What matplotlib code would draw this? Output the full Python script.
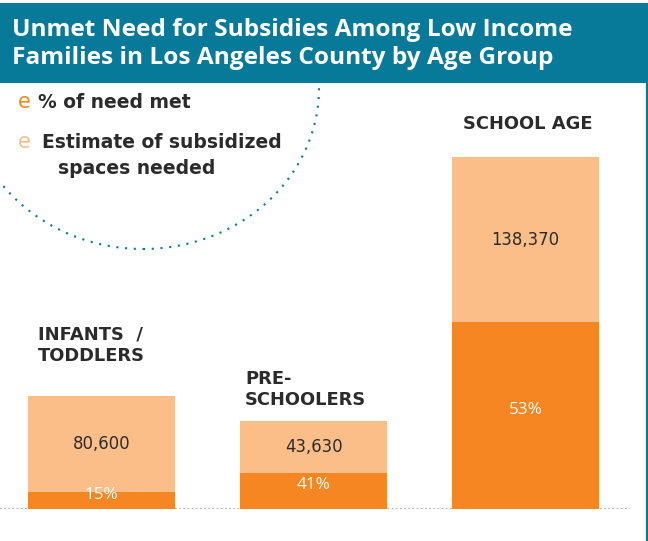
import matplotlib.pyplot as plt
from matplotlib.patches import Rectangle, Ellipse
from matplotlib.lines import Line2D

# chart data
groups = ["INFANTS  /\nTODDLERS", "PRE-\nSCHOOLERS", "SCHOOL AGE"]
spaces_needed = [80600, 43630, 138370]   # unmet, light part
pct_met = [15, 41, 53]                    # % of need met, dark part
title = "Unmet Need for Subsidies Among Low Income\nFamilies in Los Angeles County by Age Group"
legend_labels = ["% of need met", "Estimate of subsidized", "spaces needed"]

# colours
TEAL = "#077a99"
DARK_ORANGE = "#f58621"
LIGHT_ORANGE = "#fbbe89"
TEXT = "#2b2b2b"
TITLE_FONT = "Open Sans"
FONT = "DejaVu Sans"

W, H = 648, 541
fig = plt.figure(figsize=(W / 100, H / 100), dpi=100)
fig.patch.set_facecolor("white")


def fx(px):
    return px / W


def fy(py):
    # pixel from top -> figure fraction
    return 1 - py / H


# dotted circle behind everything
circle = Ellipse((fx(143), fy(88)), 352 / W, 322 / H, transform=fig.transFigure,
                 fill=False, edgecolor=TEAL, linewidth=1.5,
                 linestyle=(0, (1, 3.2)), zorder=0)
fig.patches.append(circle)

# title banner (white strip on top hides the rest of the circle)
fig.patches.append(Rectangle((0, fy(3)), 1, 3 / H, transform=fig.transFigure,
                             facecolor="white", edgecolor="none", zorder=5))
fig.patches.append(Rectangle((0, fy(83)), 1, 80 / H, transform=fig.transFigure,
                             facecolor=TEAL, edgecolor="none", zorder=5))
fig.lines.append(Line2D([fx(646.5), fx(646.5)], [fy(83), 0], transform=fig.transFigure,
                        color=TEAL, linewidth=1.6, zorder=5))
fig.text(fx(12), fy(44), title, color="white", fontsize=17.6, fontfamily=TITLE_FONT,
         fontweight="bold", va="center", ha="left", linespacing=1.22, zorder=6)

# legend
fig.text(fx(18), fy(108), "e", color=DARK_ORANGE, fontsize=15, fontfamily=FONT, va="baseline")
fig.text(fx(38), fy(108), legend_labels[0], color=TEXT, fontsize=13.5, fontfamily=FONT,
         fontweight="bold", va="baseline")
fig.text(fx(18), fy(148), "e", color=LIGHT_ORANGE, fontsize=15, fontfamily=FONT, va="baseline")
fig.text(fx(42), fy(148), legend_labels[1], color=TEXT, fontsize=13.5, fontfamily=FONT,
         fontweight="bold", va="baseline")
fig.text(fx(58), fy(174), legend_labels[2], color=TEXT, fontsize=13.5, fontfamily=FONT,
         fontweight="bold", va="baseline")

# bars
met = [n * p / (100 - p) for n, p in zip(spaces_needed, pct_met)]
totals = [m + n for m, n in zip(met, spaces_needed)]

px_per_unit = 352 / totals[2]
ax_top_px = 90
ax_h_px = 509 - ax_top_px
ax = fig.add_axes([0, fy(509), fx(630), ax_h_px / H])
ax.set_xlim(-101.5 / 212, (630 - 101.5) / 212)
ax.set_ylim(0, ax_h_px / px_per_unit)
ax.axis("off")
ax.patch.set_alpha(0)

x = range(len(groups))
bw = 147 / 212
ax.bar(x, met, width=bw, color=DARK_ORANGE, linewidth=0, zorder=2)
ax.bar(x, spaces_needed, width=bw, bottom=met, color=LIGHT_ORANGE, linewidth=0, zorder=2)
ax.axhline(0, color="#9a9a9a", linewidth=1.2, linestyle=(0, (1, 1.5)), zorder=1)

# label offsets from bar top-left, in pixels
label_offsets = [(10, 35), (5, 16), (11, 28)]
for i in x:
    ax.annotate(f"{spaces_needed[i]:,}", (i, met[i] + spaces_needed[i] / 2),
                ha="center", va="center", fontsize=11.9, fontfamily=FONT, color=TEXT)
    ax.annotate(f"{pct_met[i]}%", (i, met[i] / 2), xytext=(0, 4), textcoords="offset points",
                ha="center", va="center", fontsize=12.3, fontfamily=TITLE_FONT, color="white")
    dx, dy = label_offsets[i]
    ax.annotate(groups[i], (i - bw / 2, totals[i]), xytext=(dx * 0.72, dy * 0.72),
                textcoords="offset points", ha="left", va="baseline", fontsize=12.9,
                fontfamily=FONT, fontweight="bold", color=TEXT, linespacing=1.2)

fig.savefig("out.png", dpi=100)
